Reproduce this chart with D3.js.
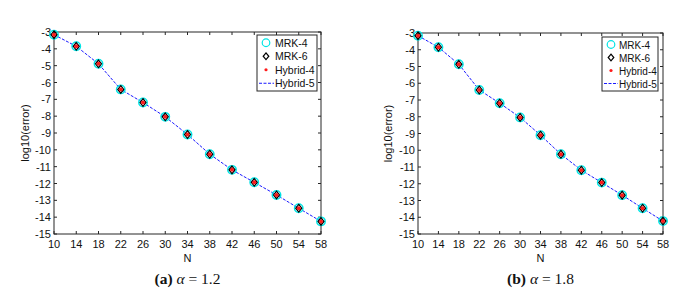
<!DOCTYPE html>
<html><head><meta charset="utf-8">
<script src="https://cdn.jsdelivr.net/npm/d3@7"></script>
<style>body{margin:0;background:#fff}svg{display:block}</style>
</head><body>
<svg id="c" width="698" height="296"></svg>
<script>
const N = [10,14,18,22,26,30,34,38,42,46,50,54,58];
const errA = [-3.16,-3.85,-4.89,-6.41,-7.19,-8.04,-9.09,-10.26,-11.19,-11.93,-12.68,-13.47,-14.25];
const errB = [-3.16,-3.85,-4.87,-6.40,-7.19,-8.04,-9.10,-10.24,-11.19,-11.93,-12.68,-13.46,-14.23];
const xTicks = [10,14,18,22,26,30,34,38,42,46,50,54,58];
const yTicks = [-3,-4,-5,-6,-7,-8,-9,-10,-11,-12,-13,-14,-15];
const seriesNames = ["MRK-4","MRK-6","Hybrid-4","Hybrid-5"];
const captions = [{lab:"(a)", val:"1.2"},{lab:"(b)", val:"1.8"}];

const svg = d3.select("#c");
const panels = [
  {x0:54, x1:321, y0:32, y1:234, data:errA, ylabX:29, leg:{x:257,y:35,w:60,h:56,fs:10.5,tx:18}, cap:captions[0]},
  {x0:418, x1:663, y0:33, y1:234, data:errB, ylabX:392, leg:{x:602,y:37,w:56,h:54,fs:10,tx:17}, cap:captions[1]}
];
const font = "'Liberation Sans', Arial, sans-serif";
const axisCol = "#262626";
const diamond = (w,h) => `M0,${-h}L${w},0L0,${h}L${-w},0Z`;

panels.forEach(p => {
  const g = svg.append("g");
  const x = d3.scaleLinear().domain([10,58]).range([p.x0,p.x1]);
  const y = d3.scaleLinear().domain([-15,-3]).range([p.y1,p.y0]);
  g.append("rect").attr("x",p.x0).attr("y",p.y0).attr("width",p.x1-p.x0).attr("height",p.y1-p.y0)
    .attr("fill","none").attr("stroke",axisCol).attr("stroke-width",1);
  const tl = 3;
  xTicks.forEach(t => {
    g.append("line").attr("x1",x(t)).attr("x2",x(t)).attr("y1",p.y1).attr("y2",p.y1-tl).attr("stroke",axisCol);
    g.append("line").attr("x1",x(t)).attr("x2",x(t)).attr("y1",p.y0).attr("y2",p.y0+tl).attr("stroke",axisCol);
    g.append("text").attr("x",x(t)).attr("y",p.y1+14).attr("text-anchor","middle")
      .attr("font-family",font).attr("font-size",11).attr("fill","#111").text(t);
  });
  yTicks.forEach(t => {
    g.append("line").attr("x1",p.x0).attr("x2",p.x0+tl).attr("y1",y(t)).attr("y2",y(t)).attr("stroke",axisCol);
    g.append("line").attr("x1",p.x1).attr("x2",p.x1-tl).attr("y1",y(t)).attr("y2",y(t)).attr("stroke",axisCol);
    g.append("text").attr("x",p.x0-3).attr("y",y(t)+4).attr("text-anchor","end")
      .attr("font-family",font).attr("font-size",11).attr("fill","#111").text(t);
  });
  g.append("text").attr("x",(p.x0+p.x1)/2).attr("y",p.y1+28).attr("text-anchor","middle")
    .attr("font-family",font).attr("font-size",11).attr("fill","#111").text("N");
  g.append("text").attr("transform",`translate(${p.ylabX},${(p.y0+p.y1)/2}) rotate(-90)`)
    .attr("text-anchor","middle").attr("font-family",font).attr("font-size",11).attr("fill","#111").text("log10(error)");
  const cap = g.append("text").attr("x",(p.x0+p.x1)/2).attr("y",p.y1+50).attr("text-anchor","middle")
    .attr("font-family","'Liberation Serif', 'Times New Roman', serif").attr("font-size",15.5).attr("fill","#111");
  cap.append("tspan").attr("font-weight","bold").text(p.cap.lab + " ");
  cap.append("tspan").attr("font-style","italic").text("α");
  cap.append("tspan").text(" = " + p.cap.val);

  const pts = N.map((n,i)=>({n, v:p.data[i]}));
  g.append("path").datum(pts).attr("fill","none").attr("stroke","#1a1aff").attr("stroke-width",1)
    .attr("stroke-dasharray","3,1.5")
    .attr("d", d3.line().x(d=>x(d.n)).y(d=>y(d.v)));
  g.selectAll(null).data(pts).enter().append("circle").attr("cx",d=>x(d.n)).attr("cy",d=>y(d.v))
    .attr("r",4.2).attr("fill","none").attr("stroke","#00e5e5").attr("stroke-width",1.5);
  g.selectAll(null).data(pts).enter().append("path").attr("transform",d=>`translate(${x(d.n)},${y(d.v)})`)
    .attr("d",diamond(3,3.8)).attr("fill","none").attr("stroke","#000").attr("stroke-width",1.2);
  g.selectAll(null).data(pts).enter().append("circle").attr("cx",d=>x(d.n)).attr("cy",d=>y(d.v))
    .attr("r",2).attr("fill","#ff1a1a");

  const L = p.leg;
  g.append("rect").attr("x",L.x).attr("y",L.y).attr("width",L.w).attr("height",L.h)
    .attr("fill","#fff").attr("stroke",axisCol).attr("stroke-width",1);
  const rowH = (L.h-2)/4;
  seriesNames.forEach((s,i) => {
    const cy = L.y + 1 + rowH*(i+0.5);
    const sx = L.x + 9;
    if (i===0) g.append("circle").attr("cx",sx).attr("cy",cy).attr("r",3.8).attr("fill","none").attr("stroke","#00e5e5").attr("stroke-width",1.2);
    if (i===1) g.append("path").attr("transform",`translate(${sx},${cy})`).attr("d",diamond(2.8,3.3)).attr("fill","none").attr("stroke","#000").attr("stroke-width",1.2);
    if (i===2) g.append("circle").attr("cx",sx).attr("cy",cy).attr("r",1.6).attr("fill","#ff1a1a");
    if (i===3) g.append("line").attr("x1",L.x+2).attr("x2",L.x+L.tx-1).attr("y1",cy).attr("y2",cy).attr("stroke","#1a1aff").attr("stroke-dasharray","3,1.5");
    g.append("text").attr("x",L.x+L.tx).attr("y",cy+4).attr("font-family",font).attr("font-size",L.fs).attr("fill","#111").text(s);
  });
});
</script>
</body></html>
